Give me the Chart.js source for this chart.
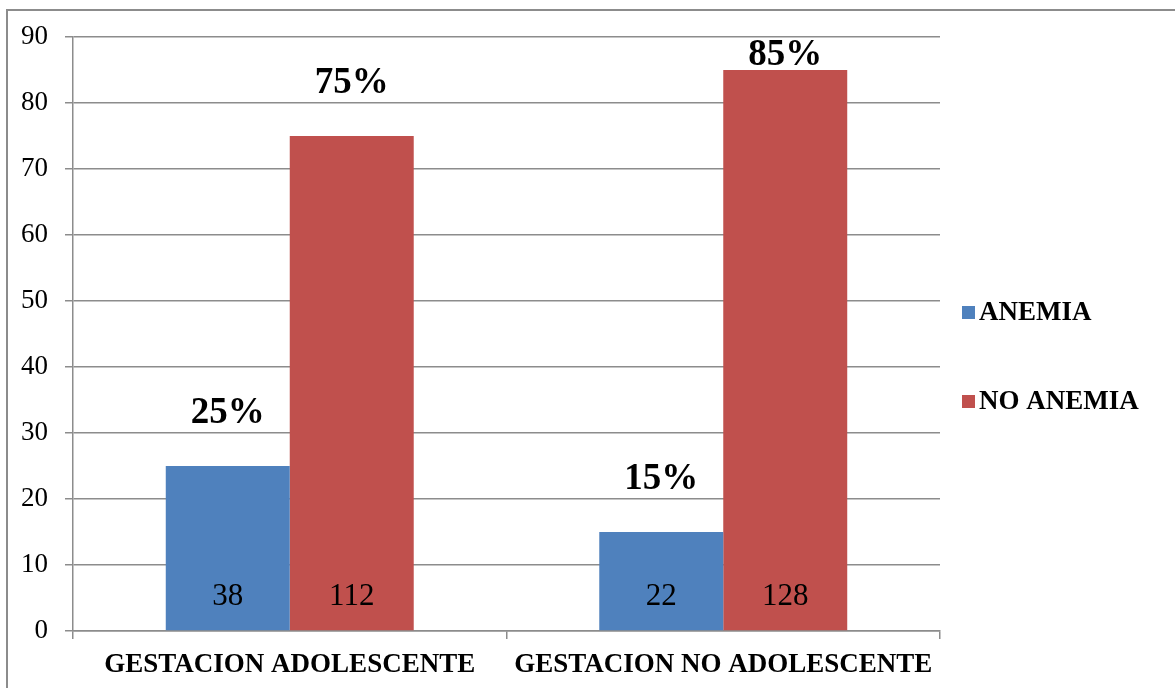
<!DOCTYPE html>
<html>
<head>
<meta charset="utf-8">
<script src="https://cdn.jsdelivr.net/npm/chart.js@4/dist/chart.umd.min.js"></script>
<style>
    body { margin: 0; background: #fff; }
    canvas { display: block; }
</style>
</head>
<body>
<canvas id="anemiaChart" width="1175" height="688"></canvas>
<script>
const categories = ['GESTACION ADOLESCENTE', 'GESTACION NO ADOLESCENTE'];
const anemiaPct = [25, 15];
const noAnemiaPct = [75, 85];
const anemiaCount = [38, 22];
const noAnemiaCount = [112, 128];
const yTicks = [0, 10, 20, 30, 40, 50, 60, 70, 80, 90];

const serif = "'Liberation Serif', 'Times New Roman', serif";
const gridColor = '#8c8c8c';

// frame lines + bar labels + legend
const extras = {
    id: 'extras',
    afterDraw(chart) {
        const ctx = chart.ctx;
        ctx.save();
        ctx.strokeStyle = '#8c8c8c';
        ctx.lineWidth = 2;
        ctx.beginPath();
        ctx.moveTo(7, 688);
        ctx.lineTo(7, 10);
        ctx.lineTo(1175, 10);
        ctx.stroke();

        const counts = [anemiaCount, noAnemiaCount];
        chart.data.datasets.forEach((ds, i) => {
            const meta = chart.getDatasetMeta(i);
            meta.data.forEach((bar, j) => {
                ctx.fillStyle = '#000';
                ctx.textAlign = 'center';
                ctx.textBaseline = 'middle';
                ctx.font = 'bold 37px ' + serif;
                let y = Math.max(bar.y - 53, 55);
                ctx.fillText(ds.data[j] + '%', bar.x, y);
                ctx.font = '31px ' + serif;
                ctx.fillText(counts[i][j], bar.x, bar.base - 33);
            });
        });

        // legend on the right
        const items = [[chart.data.datasets[0], 313], [chart.data.datasets[1], 402]];
        items.forEach(([ds, y]) => {
            ctx.fillStyle = ds.backgroundColor;
            ctx.fillRect(962, y - 7, 13, 13);
            ctx.fillStyle = '#000';
            ctx.font = 'bold 27px ' + serif;
            ctx.textAlign = 'left';
            ctx.textBaseline = 'middle';
            ctx.fillText(ds.label, 979, y);
        });
        ctx.restore();
    }
};

new Chart(document.getElementById('anemiaChart'), {
    type: 'bar',
    data: {
        labels: categories,
        datasets: [
            { label: 'ANEMIA', data: anemiaPct, backgroundColor: '#4F81BD' },
            { label: 'NO ANEMIA', data: noAnemiaPct, backgroundColor: '#C0504D' }
        ]
    },
    options: {
        responsive: false,
        animation: false,
        categoryPercentage: 0.572,
        barPercentage: 1,
        layout: { padding: { top: 37, right: 235, left: 0, bottom: 0 } },
        plugins: {
            legend: { display: false },
            tooltip: { enabled: false }
        },
        scales: {
            x: {
                afterFit: s => { s.height = 57; },
                grid: { drawOnChartArea: false, color: gridColor, lineWidth: 1.5, tickLength: 8 },
                border: { color: gridColor, width: 1.5 },
                ticks: { color: '#000', padding: 10, font: { family: serif, size: 27, weight: 'bold' } }
            },
            y: {
                min: 0,
                max: 90,
                afterFit: s => { s.width = 73; },
                afterBuildTicks: s => { s.ticks = yTicks.map(v => ({ value: v })); },
                grid: { color: gridColor, lineWidth: 1.5, tickLength: 8 },
                border: { color: gridColor, width: 1.5 },
                ticks: { color: '#000', padding: 17, font: { family: serif, size: 27 } }
            }
        }
    },
    plugins: [extras]
});
</script>
</body>
</html>
